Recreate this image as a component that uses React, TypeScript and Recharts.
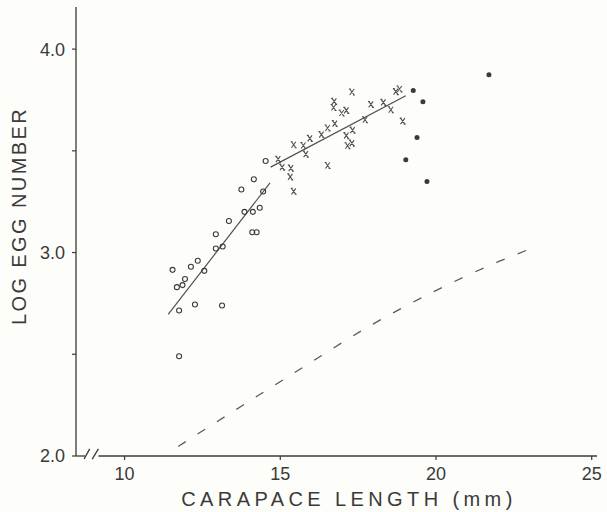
import { ComposedChart, Scatter, XAxis, YAxis, ReferenceLine } from "recharts"

// open circles
const openLen = [14.53, 14.15, 13.75, 14.45, 13.85, 14.12, 14.34, 13.35, 14.1, 14.24, 12.93, 12.93, 13.15, 12.35, 12.13, 11.54, 12.56, 11.94, 11.68, 11.86, 11.75, 12.26, 13.13, 11.75]
const openLog = [3.45, 3.36, 3.31, 3.3, 3.2, 3.2, 3.22, 3.155, 3.1, 3.1, 3.09, 3.02, 3.03, 2.96, 2.93, 2.915, 2.91, 2.87, 2.83, 2.84, 2.715, 2.745, 2.74, 2.49]

// crosses
const crossLen = [17.3, 18.71, 18.83, 16.73, 16.71, 16.97, 17.12, 17.91, 18.31, 18.55, 17.72, 18.93, 16.75, 16.52, 16.32, 15.95, 17.12, 17.32, 17.16, 17.3, 15.43, 15.74, 15.82, 14.93, 15.06, 15.34, 15.32, 15.43, 16.52]
const crossLog = [3.789, 3.791, 3.804, 3.743, 3.713, 3.686, 3.699, 3.728, 3.738, 3.702, 3.653, 3.646, 3.634, 3.612, 3.58, 3.561, 3.575, 3.602, 3.525, 3.538, 3.53, 3.526, 3.484, 3.459, 3.42, 3.415, 3.372, 3.301, 3.428]

// filled dots
const dotLen = [21.7, 19.27, 19.58, 19.39, 19.03, 19.71]
const dotLog = [3.874, 3.797, 3.741, 3.566, 3.456, 3.349]

// regression lines
const fitOpenLen = [11.4, 14.67]
const fitOpenLog = [2.696, 3.342]
const fitCrossLen = [14.69, 19.03]
const fitCrossLog = [3.42, 3.771]

// dashed curve
const curveLen = [11.72, 13.7, 15.74, 17.77, 19.81, 22.0, 23.07]
const curveLog = [2.047, 2.24, 2.437, 2.63, 2.799, 2.955, 3.021]

const xTicks = [10, 15, 20, 25]
const yTicks = [2, 2.5, 3, 3.5, 4]

const zip = (xs: number[], ys: number[]) => xs.map((x, i) => ({ x, y: ys[i] }))

const INK = "#3a3a3a"
const FONT = "'Liberation Sans', Arial, sans-serif"

const OpenCircle = (p: any) => (
  <circle cx={p.cx} cy={p.cy} r={2.5} fill="none" stroke={INK} strokeWidth={1.1} />
)

const Cross = (p: any) => {
  const { cx, cy } = p
  return (
    <path
      d={`M${cx - 2.2},${cy - 3} L${cx + 2.2},${cy + 3} M${cx + 2.2},${cy - 3} L${cx - 2.2},${cy + 3} M${cx - 3},${cy - 3} L${cx - 1},${cy - 3} M${cx + 1},${cy + 3} L${cx + 3},${cy + 3}`}
      stroke="#505050"
      strokeWidth={1.1}
      fill="none"
    />
  )
}

const Dot = (p: any) => <circle cx={p.cx} cy={p.cy} r={2.5} fill={INK} />

const NoDot = () => <g />

export default function App() {
  return (
    <div style={{ position: "absolute", left: 0, top: 0, background: "#fdfdfa" }}>
      <ComposedChart width={607} height={512} margin={{ top: 7, right: 10, left: 0, bottom: 6 }}>
        <XAxis
          type="number"
          dataKey="x"
          domain={[8.44, 25.17]}
          ticks={xTicks}
          allowDataOverflow
          axisLine={false}
          tickSize={4}
          tickMargin={7}
          tickLine={{ stroke: INK, strokeWidth: 1.2 }}
          tick={{ fill: INK, fontSize: 18, fontFamily: FONT }}
          height={50}
          label={{
            content: () => (
              <text x={349} y={506} textAnchor="middle" fill={INK} fontSize={20} fontFamily={FONT} letterSpacing={4.4}>
                CARAPACE LENGTH (mm)
              </text>
            ),
          }}
        />
        <YAxis
          type="number"
          dataKey="y"
          domain={[2, 4.207]}
          ticks={yTicks}
          allowDataOverflow
          width={76}
          axisLine={{ stroke: INK, strokeWidth: 1.3 }}
          tickSize={4}
          tickMargin={7}
          tickLine={{ stroke: INK, strokeWidth: 1.2 }}
          tickFormatter={(v: number) => (v % 1 === 0 ? v.toFixed(1) : "")}
          tick={{ fill: INK, fontSize: 18, fontFamily: FONT }}
          label={{
            content: () => (
              <text
                x={19}
                y={216}
                transform="rotate(-90, 19, 216)"
                textAnchor="middle"
                dominantBaseline="central"
                fill={INK}
                fontSize={20}
                fontFamily={FONT}
                letterSpacing={2.4}
              >
                LOG EGG NUMBER
              </text>
            ),
          }}
        />

        {/* x axis with break */}
        <ReferenceLine segment={[{ x: 8.44, y: 2 }, { x: 8.73, y: 2 }]} stroke={INK} strokeWidth={1.3} ifOverflow="visible" />
        <ReferenceLine segment={[{ x: 8.7, y: 1.985 }, { x: 8.88, y: 2.035 }]} stroke={INK} strokeWidth={1.3} ifOverflow="visible" />
        <ReferenceLine segment={[{ x: 8.96, y: 1.985 }, { x: 9.16, y: 2.035 }]} stroke={INK} strokeWidth={1.3} ifOverflow="visible" />
        <ReferenceLine segment={[{ x: 9.16, y: 2 }, { x: 25.17, y: 2 }]} stroke={INK} strokeWidth={1.3} ifOverflow="visible" />

        <Scatter
          data={zip(curveLen, curveLog)}
          shape={NoDot}
          line={{ stroke: "#5a5a5a", strokeWidth: 1.3, strokeDasharray: "9 14" }}
          lineJointType="monotoneX"
          isAnimationActive={false}
        />
        <Scatter data={zip(fitOpenLen, fitOpenLog)} shape={NoDot} line={{ stroke: "#505050", strokeWidth: 1.2 }} isAnimationActive={false} />
        <Scatter data={zip(fitCrossLen, fitCrossLog)} shape={NoDot} line={{ stroke: "#505050", strokeWidth: 1.2 }} isAnimationActive={false} />

        <Scatter data={zip(openLen, openLog)} shape={OpenCircle} isAnimationActive={false} />
        <Scatter data={zip(crossLen, crossLog)} shape={Cross} isAnimationActive={false} />
        <Scatter data={zip(dotLen, dotLog)} shape={Dot} isAnimationActive={false} />
      </ComposedChart>
    </div>
  )
}
